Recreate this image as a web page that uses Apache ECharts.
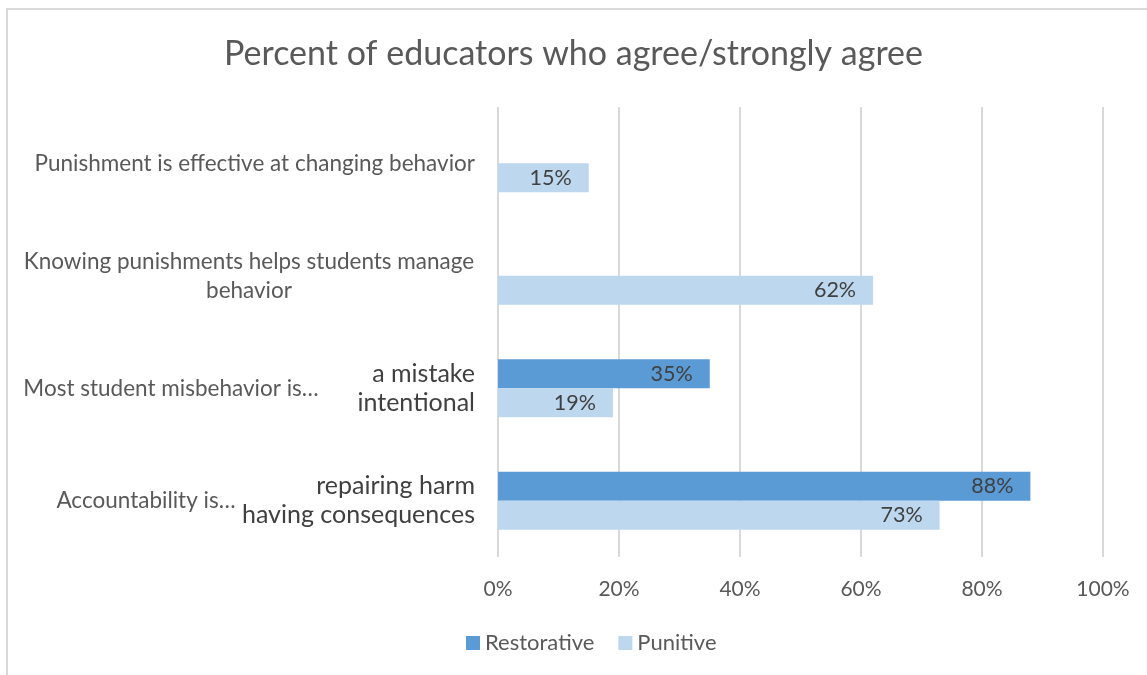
<!DOCTYPE html>
<html>
<head>
<meta charset="utf-8">
<script src="https://cdn.jsdelivr.net/npm/echarts@6/dist/echarts.min.js"></script>
<style>
  html, body { margin: 0; padding: 0; background: #fff; }
  #chart { width: 1147px; height: 675px; }
</style>
</head>
<body>
<div id="chart"></div>
<script>
// Survey statements (top to bottom)
const categories = [
  'Punishment is effective at changing behavior',
  'Knowing punishments helps students manage behavior',
  'Most student misbehavior is…',
  'Accountability is…'
];
// Percent agreeing with the restorative / punitive framing
const restorative = [null, null, 35, 88];
const punitive = [15, 62, 19, 73];
// Answer wording shown beside each bar
const restorativeTags = [null, null, 'a mistake', 'repairing harm'];
const punitiveTags = [null, null, 'intentional', 'having consequences'];
// Value axis ticks (percent)
const xTicks = [0, 20, 40, 60, 80, 100];

const FONT = 'Lato';
const AXIS_GREY = '#595959';
const LABEL_DARK = '#404040';
const CAT_SIZE = 22.5;

const ctx = document.createElement('canvas').getContext('2d');
function textWidth(str, size) {
  ctx.font = size + 'px ' + FONT;
  return ctx.measureText(str).width;
}

// Long statements wrap onto two centred lines
function wrapLine(str) {
  if (str.length <= 46) return [str];
  const cut = str.lastIndexOf(' ', 42);
  return [str.slice(0, cut), str.slice(cut + 1)];
}

// Group names that sit left of their answer wording, centred on these x positions
const groupCentres = { 2: 171, 3: 146 };
const labelRight = 475;

const rich = {};
const formatterTexts = categories.map((c, i) => {
  const hasTags = restorativeTags[i] !== null;
  if (hasTags) {
    const w = textWidth(c, CAT_SIZE);
    const pad = Math.max(0, labelRight - (groupCentres[i] + w / 2));
    rich['g' + i] = { fontFamily: FONT, fontSize: CAT_SIZE, color: AXIS_GREY, padding: [0, pad, 0, 0] };
    return '{g' + i + '|' + c + '}';
  }
  const lines = wrapLine(c);
  if (lines.length === 1) return c;
  const w = Math.ceil(textWidth(lines[0], CAT_SIZE)) + 1;
  rich['w' + i] = { fontFamily: FONT, fontSize: CAT_SIZE, color: AXIS_GREY, width: w, align: 'center', lineHeight: 29 };
  return lines.map(l => '{w' + i + '|' + l + '}').join('\n');
});

function tagSeries(name, stack, tags) {
  return {
    name: name,
    type: 'bar',
    stack: stack,
    barWidth: 29,
    silent: true,
    itemStyle: { color: 'transparent' },
    data: tags.map(t => t === null ? null : {
      value: 0,
      label: {
        show: true,
        position: 'left',
        distance: 23,
        formatter: t,
        fontFamily: FONT,
        fontSize: 25,
        color: LABEL_DARK
      }
    })
  };
}

function valueSeries(name, stack, color, values) {
  return {
    name: name,
    type: 'bar',
    stack: stack,
    barWidth: 29,
    barGap: '0%',
    itemStyle: { color: color },
    label: {
      show: true,
      position: 'insideRight',
      distance: 17,
      formatter: p => p.value + '%',
      fontFamily: FONT,
      fontSize: 21.5,
      color: LABEL_DARK
    },
    data: values
  };
}

const chart = echarts.init(document.getElementById('chart'), null, { renderer: 'canvas' });
chart.setOption({
  animation: false,
  backgroundColor: '#ffffff',
  textStyle: { fontFamily: FONT },
  title: {
    text: 'Percent of educators who agree/strongly agree',
    left: 'center',
    top: 32,
    textStyle: { fontFamily: FONT, fontWeight: 'normal', fontSize: 34, color: AXIS_GREY }
  },
  legend: {
    data: ['Restorative', 'Punitive'],
    left: 461,
    top: 627,
    icon: 'rect',
    itemWidth: 14,
    itemHeight: 14,
    itemGap: 24,
    textStyle: { fontFamily: FONT, fontSize: 22, color: AXIS_GREY }
  },
  graphic: [{
    type: 'rect',
    shape: { x: 7, y: 9, width: 1160, height: 700 },
    style: { fill: 'none', stroke: '#d9d9d9', lineWidth: 2 },
    silent: true
  }],
  grid: { left: 498, right: 44, top: 107, bottom: 118 },
  xAxis: {
    type: 'value',
    min: xTicks[0],
    max: xTicks[xTicks.length - 1],
    interval: xTicks[1] - xTicks[0],
    axisLine: { show: false },
    axisTick: { show: false },
    splitLine: { lineStyle: { color: '#d9d9d9', width: 2 } },
    axisLabel: {
      formatter: '{value}%',
      margin: 22,
      fontFamily: FONT,
      fontSize: 21,
      color: AXIS_GREY
    }
  },
  yAxis: {
    type: 'category',
    inverse: true,
    data: categories,
    axisLine: { show: false },
    axisTick: { show: false },
    axisLabel: {
      margin: 23,
      fontFamily: FONT,
      fontSize: CAT_SIZE,
      color: AXIS_GREY,
      formatter: (v, i) => formatterTexts[i],
      rich: rich
    }
  },
  series: [
    tagSeries('RestorativeTag', 'r', restorativeTags),
    valueSeries('Restorative', 'r', '#5b9bd5', restorative),
    tagSeries('PunitiveTag', 'p', punitiveTags),
    valueSeries('Punitive', 'p', '#bdd7ee', punitive)
  ]
});
</script>
</body>
</html>
